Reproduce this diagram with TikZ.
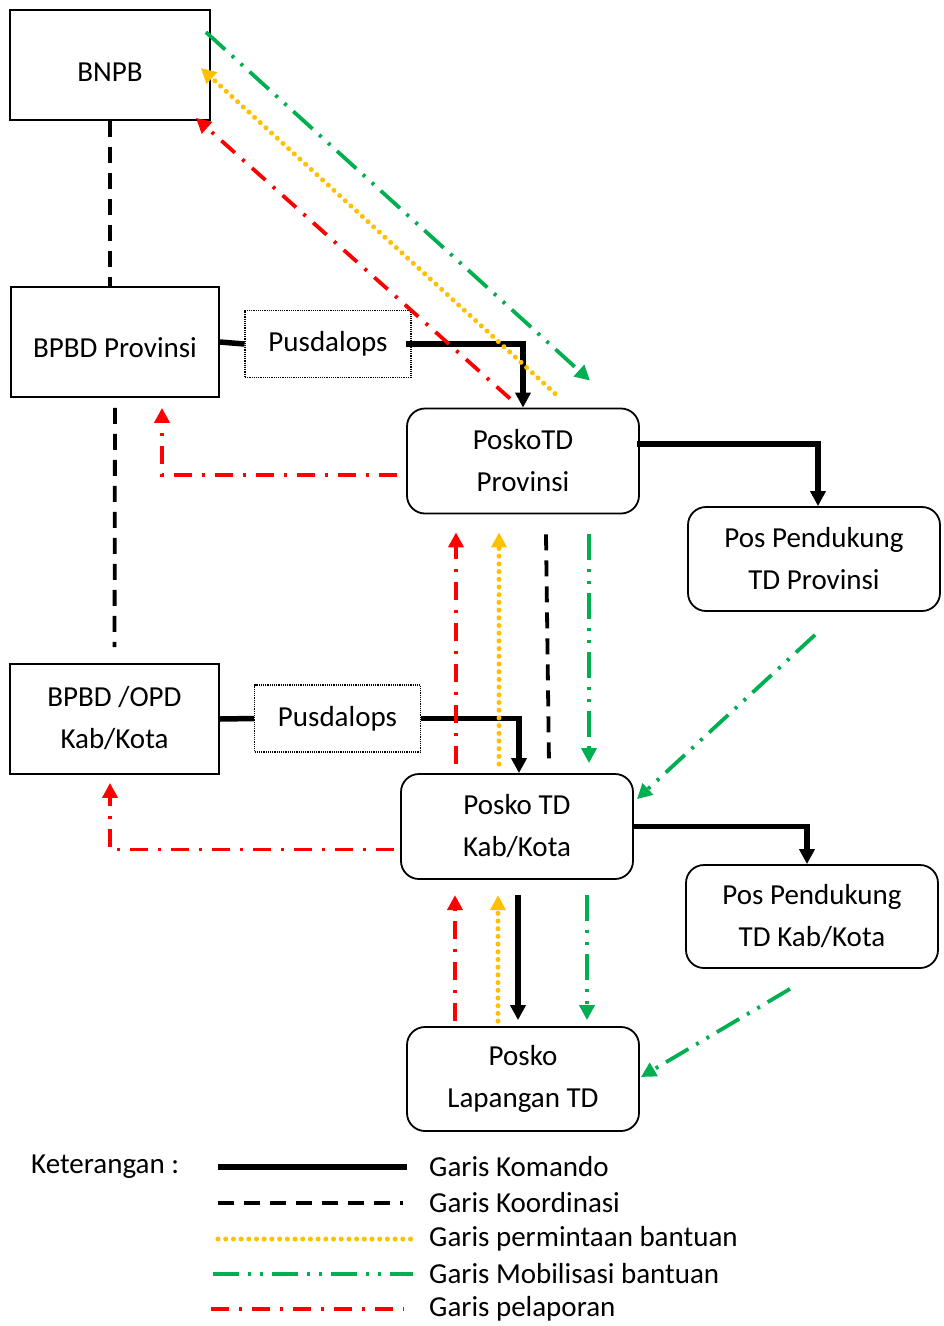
\documentclass[tikz,border=0pt]{standalone}
\usepackage{fontspec}
\setmainfont{Carlito}
\usetikzlibrary{positioning, arrows.meta, calc}
\definecolor{merah}{HTML}{FF0000}
\definecolor{kuning}{HTML}{FFC000}
\definecolor{hijau}{HTML}{00B050}

\begin{document}
\begin{tikzpicture}[
    x=1pt, y=-1pt,
    font=\fontsize{29}{42}\selectfont,
    box/.style={draw, line width=1.8pt, align=center, inner sep=0pt},
    posko/.style={box, rounded corners=18pt, minimum width=232pt, minimum height=105pt},
    pusd/.style={draw, densely dotted, line width=1.2pt, minimum width=166pt, minimum height=67pt},
    tip/.style={-{Triangle[length=15pt, width=15pt]}},
    komando/.style={line width=5.5pt, tip},
    koordinasi/.style={line width=3.8pt, dash pattern=on 16pt off 10pt},
    permintaan/.style={kuning, line width=5pt, line cap=round, dash pattern=on 0pt off 7.7pt, tip},
    mobilisasi/.style={hijau, line width=3.8pt, dash pattern=on 26pt off 9pt on 3pt off 9pt on 3pt off 9pt, tip},
    pelaporan/.style={merah, line width=3.8pt, dash pattern=on 18pt off 10pt on 3pt off 10pt, tip},
    ket/.style={anchor=west, inner sep=0pt}
]
    \useasboundingbox (0,0) rectangle (944,1326);

    % Boxes
    \node[box, minimum width=200pt, minimum height=110pt, text height=33pt] (bnpb) at (110,65) {BNPB};
    \node[box, minimum width=208pt, minimum height=110pt, text height=31pt] (bpbdprov) at (115,342) {BPBD Provinsi};
    \node[pusd] (pusdprov) at (328,344) {Pusdalops};
    \node[posko] (ptdprov) at (523,461) {PoskoTD\\Provinsi};
    \node[posko, minimum width=252pt, minimum height=104pt] (pendprov) at (814,559) {Pos Pendukung\\TD Provinsi};
    \node[box, minimum width=209pt, minimum height=110pt] (bpbdkab) at (114.5,719) {\raisebox{4pt}{BPBD /OPD}\\\raisebox{4pt}{Kab/Kota}};
    \node[pusd] (pusdkab) at (337.5,718.5) {Pusdalops};
    \node[posko] (ptdkab) at (517,826.5) {Posko TD\\Kab/Kota};
    \node[posko, minimum width=252pt, minimum height=103pt] (pendkab) at (812,916.5) {Pos Pendukung\\TD Kab/Kota};
    \node[posko, minimum height=104pt] (lapangan) at (523,1079) {Posko\\Lapangan TD};

    % Koordinasi
    \draw[koordinasi] (bnpb.south) -- (bnpb.south |- bpbdprov.north);
    \draw[koordinasi, shorten <=10pt, shorten >=16pt] (bpbdprov.south) -- (bpbdkab.north);
    \draw[koordinasi] ($(ptdprov.south)+(23,20)$) -- ($(ptdkab.north)+(32,-9)$);

    % Komando
    \draw[komando, -] (bpbdprov.east) -- (pusdprov.west);
    \draw[komando] ([xshift=-6pt]pusdprov.east) -| (ptdprov.north);
    \draw[komando] ($(ptdprov.east)+(-3,-17)$) -| ([xshift=4pt]pendprov.north);
    \draw[komando, -] (bpbdkab.east) -- (pusdkab.west);
    \draw[komando] (pusdkab.east) -| ([xshift=2pt]ptdkab.north);
    \draw[komando] ($(ptdkab.east)+(0,0)$) -| ([xshift=-5pt]pendkab.north);
    \draw[komando] ($(lapangan.north)+(-5,-131)$) -- ($(lapangan.north)+(-5,-6)$);

    % BNPB <-> PoskoTD Provinsi
    \draw[mobilisasi] ($(bnpb.north east)+(-5,23)$) -- ($(ptdprov.north)+(67,-27)$);
    \draw[permintaan] ($(ptdprov.north)+(32,-14)$) -- ($(bnpb.east)+(-10,3)$);
    \draw[pelaporan] ($(ptdprov.north)+(-13,-9)$) -- ($(bnpb.south east)+(-15,-3)$);

    % Pelaporan ke BPBD
    \draw[pelaporan] ($(ptdprov.west)+(-9,14)$) -| ($(bpbdprov.south)+(47,10)$);
    \draw[pelaporan] ($(ptdkab.west)+(-6,23)$) -| ($(bpbdkab.south)+(-4.5,8)$);

    % PoskoTD Provinsi <-> Posko TD Kab/Kota
    \draw[pelaporan] ($(ptdkab.north)+(-61,-9)$) -- ($(ptdkab.north |- ptdprov.south)+(-61,18)$);
    \draw[permintaan] ($(ptdkab.north)+(-18,-9)$) -- ($(ptdkab.north |- ptdprov.south)+(-18,18)$);
    \draw[mobilisasi] ($(ptdkab.north |- ptdprov.south)+(72,20)$) -- ($(ptdkab.north)+(72,-10)$);
    \draw[mobilisasi] ($(pendprov.south)+(1,23)$) -- ($(ptdkab.north east)+(3,26)$);

    % Posko TD Kab/Kota <-> Posko Lapangan
    \draw[pelaporan] ($(lapangan.north)+(-68,-5)$) -- ($(lapangan.north)+(-68,-131)$);
    \draw[permintaan] ($(lapangan.north)+(-25,-5)$) -- ($(lapangan.north)+(-25,-131)$);
    \draw[mobilisasi] ($(lapangan.north)+(64,-131)$) -- ($(lapangan.north)+(64,-6)$);
    \draw[mobilisasi] ($(pendkab.south)+(-22,20)$) -- ($(lapangan.east)+(1,-2)$);

    % Keterangan
    \node[ket] (ket) at (31,1167) {Keterangan :};
    \node[ket] (lkom) at (429,1167) {Garis Komando};
    \node[ket] (lkoor) at (429,1203) {Garis Koordinasi};
    \node[ket] (lminta) at (429,1239) {Garis permintaan bantuan};
    \node[ket] (lmob) at (429,1274) {Garis Mobilisasi bantuan};
    \node[ket] (llapor) at (429,1309) {Garis pelaporan};
    \draw[komando, -] ($(lkom.west)+(-211,0)$) -- ($(lkom.west)+(-22,0)$);
    \draw[koordinasi] ($(lkoor.west)+(-211,0)$) -- ($(lkoor.west)+(-26,0)$);
    \draw[permintaan, -] ($(lminta.west)+(-211,0)$) -- ($(lminta.west)+(-13,0)$);
    \draw[mobilisasi, -] ($(lmob.west)+(-216,0)$) -- ($(lmob.west)+(-16,0)$);
    \draw[pelaporan, -] ($(llapor.west)+(-218,0)$) -- ($(llapor.west)+(-25,0)$);

\end{tikzpicture}
\end{document}
